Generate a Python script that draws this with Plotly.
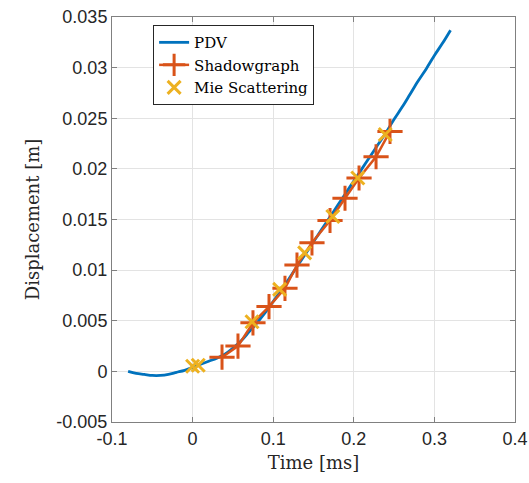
import plotly.graph_objects as go

# PDV trace (time in ms, displacement in m)
pdv_t = [-0.08, -0.07, -0.06, -0.05, -0.04, -0.03, -0.02, -0.01, 0.00, 0.01, 0.02, 0.03,
         0.04, 0.05, 0.06, 0.07, 0.08, 0.09, 0.10, 0.11, 0.12, 0.13, 0.14, 0.15, 0.16,
         0.17, 0.18, 0.19, 0.20, 0.21, 0.22, 0.23, 0.24, 0.25, 0.26, 0.27, 0.28, 0.29,
         0.30, 0.31, 0.32]
pdv_d = [0.0000, -0.0002, -0.0003, -0.0004, -0.0004, -0.0003, -0.0001, 0.0001, 0.0004,
         0.0007, 0.0010, 0.0013, 0.0017, 0.0023, 0.0030, 0.0039, 0.0048, 0.0058, 0.0069,
         0.0080, 0.0092, 0.0104, 0.0116, 0.0128, 0.0140, 0.0152, 0.0164, 0.0176, 0.0188,
         0.0200, 0.0212, 0.0224, 0.0236, 0.0249, 0.0261, 0.0274, 0.0287, 0.0299, 0.0312,
         0.0324, 0.0337]

# Shadowgraph
sh_t = [0.0365, 0.0563, 0.0749, 0.0948, 0.1146, 0.1295, 0.1481, 0.1705, 0.1891, 0.2065, 0.2276, 0.2449]
sh_d = [0.0014, 0.0025, 0.0048, 0.0064, 0.0082, 0.0105, 0.0127, 0.0149, 0.0171, 0.0191, 0.0212, 0.0237]

# Mie scattering
mie_t = [0.000, 0.007, 0.0737, 0.108, 0.139, 0.174, 0.205, 0.239]
mie_d = [0.0005, 0.0006, 0.0049, 0.0081, 0.0117, 0.0153, 0.0191, 0.0234]

x_ticks = [-0.1, 0, 0.1, 0.2, 0.3, 0.4]
x_ticktext = ["-0.1", "0", "0.1", "0.2", "0.3", "0.4"]
y_ticks = [-0.005, 0, 0.005, 0.01, 0.015, 0.02, 0.025, 0.03, 0.035]
y_ticktext = ["-0.005", "0", "0.005", "0.01", "0.015", "0.02", "0.025", "0.03", "0.035"]

blue = "#0072BD"
orange = "#D95319"
yellow = "#EDB120"
serif = "DejaVu Serif, Liberation Serif, serif"

fig = go.Figure()
fig.add_trace(go.Scatter(x=pdv_t, y=pdv_d, mode="lines", name="PDV",
                         line=dict(color=blue, width=2.8, shape="spline")))
fig.add_trace(go.Scatter(x=sh_t, y=sh_d, mode="lines+markers", name="Shadowgraph",
                         line=dict(color=orange, width=2.5),
                         marker=dict(symbol="cross-thin", size=18, color=orange,
                                     line=dict(color=orange, width=3))))
fig.add_trace(go.Scatter(x=mie_t, y=mie_d, mode="markers", name="Mie Scattering",
                         marker=dict(symbol="x-thin", size=13, color=yellow,
                                     line=dict(color=yellow, width=3))))

axis_common = dict(showgrid=True, gridcolor="#e3e3e3", gridwidth=1, automargin=False,
                   showline=True, linecolor="#808080", linewidth=1, mirror="ticks",
                   ticks="inside", ticklen=5, tickcolor="#808080", zeroline=False,
                   tickfont=dict(family="Liberation Sans, Arial, sans-serif", size=18, color="#262626"))

fig.update_xaxes(range=[-0.1, 0.4], tickvals=x_ticks, ticktext=x_ticktext,
                 title=dict(text="Time [ms]", font=dict(family=serif, size=18, color="#262626"), standoff=8),
                 **axis_common)
fig.update_yaxes(range=[-0.005, 0.035], tickvals=y_ticks, ticktext=y_ticktext,
                 title=dict(text="Displacement [m]", font=dict(family=serif, size=18, color="#262626"), standoff=12),
                 **axis_common)

fig.update_layout(
    width=529, height=483,
    margin=dict(l=112, r=14, t=17, b=61),
    plot_bgcolor="white", paper_bgcolor="white",
    showlegend=True,
    legend=dict(x=0.102, y=0.98, xanchor="left", yanchor="top",
                bgcolor="white", bordercolor="#262626", borderwidth=1,
                font=dict(family=serif, size=15, color="#000000"),
                tracegroupgap=0, itemwidth=30),
)

fig.write_html("out.html")
